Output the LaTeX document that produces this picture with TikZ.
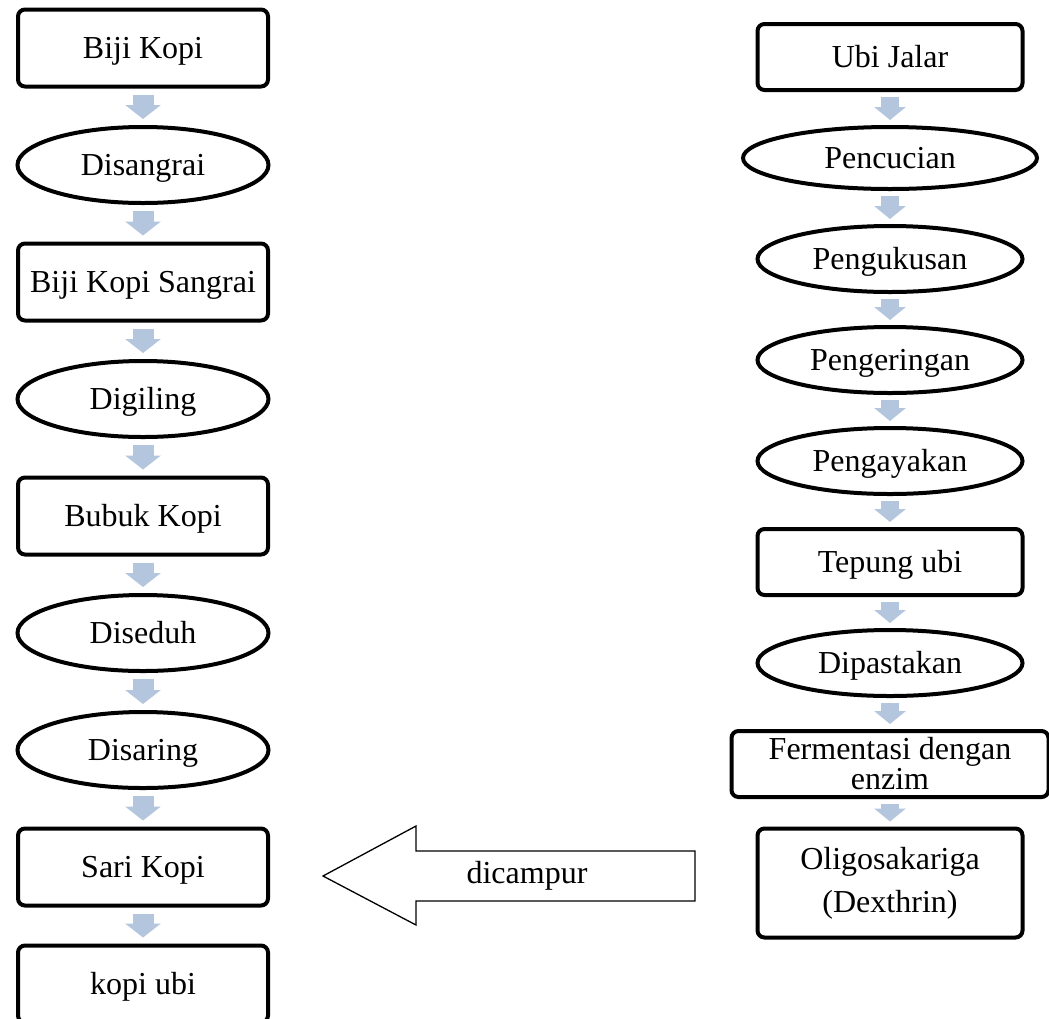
\documentclass[tikz,border=0pt]{standalone}
\usepackage{fontspec}
\setmainfont{Liberation Serif}
\usetikzlibrary{arrows.meta, shapes.geometric}
\definecolor{flowblue}{RGB}{180,198,222}
\tikzset{every node/.style={font=\fontsize{32}{30}\selectfont, inner sep=0pt, align=center},
	oneline/.style={text height=21pt, text depth=0pt},
	kopibox/.style={draw, line width=4pt, rounded corners=7pt, minimum width=250pt, minimum height=77pt, oneline},
	kopistep/.style={ellipse, draw, line width=4pt, minimum width=251pt, minimum height=76pt, oneline},
	ubibox/.style={draw, line width=4pt, rounded corners=7pt, minimum width=265pt, minimum height=66pt},
	ubistep/.style={ellipse, draw, line width=4pt, minimum width=265pt, minimum height=66pt, oneline},
	kopiflow/.style={color=flowblue, line width=21pt, -{Triangle[width=35pt, length=14pt]}, shorten <=6pt, shorten >=6pt},
	ubiflow/.style={color=flowblue, line width=18pt, -{Triangle[width=31pt, length=13pt]}, shorten <=5pt, shorten >=5pt}}

\begin{document}
\begin{tikzpicture}[x=1pt, y=-1pt, node distance=117pt]
	\useasboundingbox (0,0) rectangle (1049,1018);
	\fill[white] (0,0) rectangle (1049,1018);

	% kopi
	\node[kopibox] (biji) at (143,48) {Biji Kopi};
	\node[kopistep] (sangrai) [below of=biji] {Disangrai};
	\node[kopibox] (bsangrai) [below of=sangrai] {Biji Kopi Sangrai};
	\node[kopistep] (giling) [below of=bsangrai] {Digiling};
	\node[kopibox] (bubuk) [below of=giling] {Bubuk Kopi};
	\node[kopistep] (seduh) [below of=bubuk] {Diseduh};
	\node[kopistep] (saring) [below of=seduh] {Disaring};
	\node[kopibox] (sari) [below of=saring] {Sari Kopi};
	\node[kopibox] (kopiubi) [below of=sari] {kopi ubi};
	\foreach \a/\b in {biji/sangrai, sangrai/bsangrai, bsangrai/giling, giling/bubuk,
		bubuk/seduh, seduh/saring, saring/sari, sari/kopiubi}
		\draw[kopiflow] (\a) -- (\b);

	% ubi
	\begin{scope}[node distance=101pt]
		\node[ubibox, oneline] (ubi) at (890,57) {Ubi Jalar};
		\node[ubistep, minimum width=294pt, minimum height=62pt] (cuci) [below of=ubi] {Pencucian};
		\node[ubistep] (kukus) [below of=cuci] {Pengukusan};
		\node[ubistep] (kering) [below of=kukus] {Pengeringan};
		\node[ubistep] (ayak) [below of=kering] {Pengayakan};
		\node[ubibox, oneline] (tepung) [below of=ayak] {Tepung ubi};
		\node[ubistep] (pasta) [below of=tepung] {Dipastakan};
		\node[ubibox, minimum width=317pt] (ferm) [below of=pasta] {Fermentasi dengan\\enzim};
	\end{scope}
	\begin{scope}[node distance=119pt]
		\node[ubibox, minimum height=109pt] (oligo) [below of=ferm] {Oligosakariga\\[13pt](Dexthrin)};
	\end{scope}
	\foreach \a/\b in {ubi/cuci, cuci/kukus, kukus/kering, kering/ayak,
		ayak/tepung, tepung/pasta, pasta/ferm, ferm/oligo}
		\draw[ubiflow] (\a) -- (\b);

	% dicampur
	\draw[line width=1.3pt, fill=white, line join=miter]
		(695,851) -- (416,851) -- (416,826) -- (323,876) -- (416,925) -- (416,901) -- (695,901) -- cycle;
	\node (campur) at (527,876) {dicampur};
\end{tikzpicture}
\end{document}
